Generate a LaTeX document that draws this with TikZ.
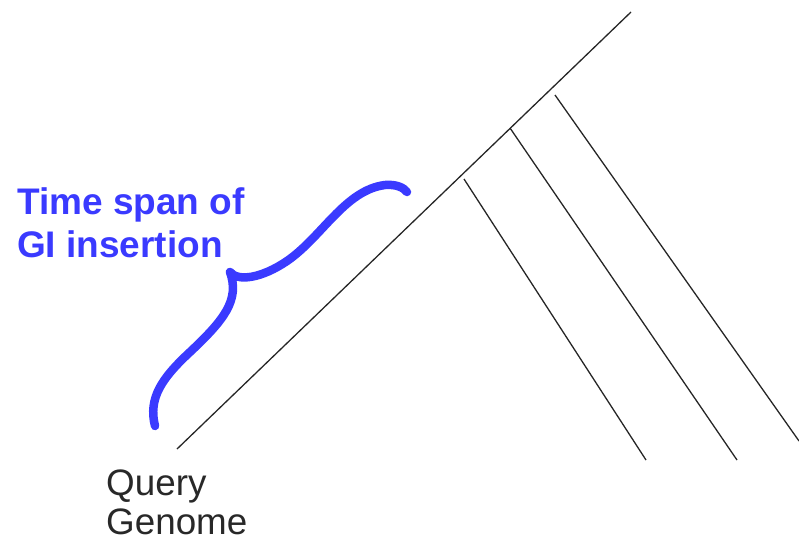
\documentclass[tikz,border=0pt]{standalone}
\usepackage{fontspec}
\setmainfont{Liberation Sans}
\usetikzlibrary{positioning}
\definecolor{BL}{RGB}{58,58,255}
\definecolor{DG}{RGB}{40,40,40}

\begin{document}
\begin{tikzpicture}[x=1pt, y=-1pt,
  lbl/.style={inner sep=0pt, text=BL, align=left,
              font=\fontsize{37}{43}\selectfont\bfseries},
  gen/.style={inner sep=0pt, text=DG, align=left,
              font=\fontsize{36.8}{39}\selectfont},
  branch/.style={draw=black!85, line width=1.3pt},
  brc/.style={draw=BL, line width=8.5pt, line cap=round, line join=round}
]
\useasboundingbox (0,0) rectangle (799,542);

% Tree: main stem and side branches
\coordinate (S0) at (177,449);
\coordinate (S1) at (631,12);
\draw[branch] (S0)--(S1);
\coordinate (B1) at (464,179);  \coordinate (E1) at (646,460);
\coordinate (B2) at (510,128);  \coordinate (E2) at (737,460);
\coordinate (B3) at (555,95);   \coordinate (E3) at (799,441);
\foreach \b/\e in {B1/E1,B2/E2,B3/E3} \draw[branch] (\b)--(\e);

% Brace
\coordinate (K0) at (155,426);
\coordinate (KT) at (230,272);
\coordinate (K1) at (407,192);
\draw[brc] (K0) .. controls (148,398) and (162,378) .. (190,352)
  .. controls (224,320) and (240,300) .. (KT)
  .. controls (238,282) and (262,278) .. (287,261)
  .. controls (322,237) and (345,190) .. (385,185)
  .. controls (397,184) and (404,188) .. (K1);

% Labels
\node[lbl, anchor=base west] (TS) at (17,257) {Time span of\\GI insertion};
\node[gen, anchor=base west] (QG) at (106,534) {Query\\Genome};
\end{tikzpicture}
\end{document}
